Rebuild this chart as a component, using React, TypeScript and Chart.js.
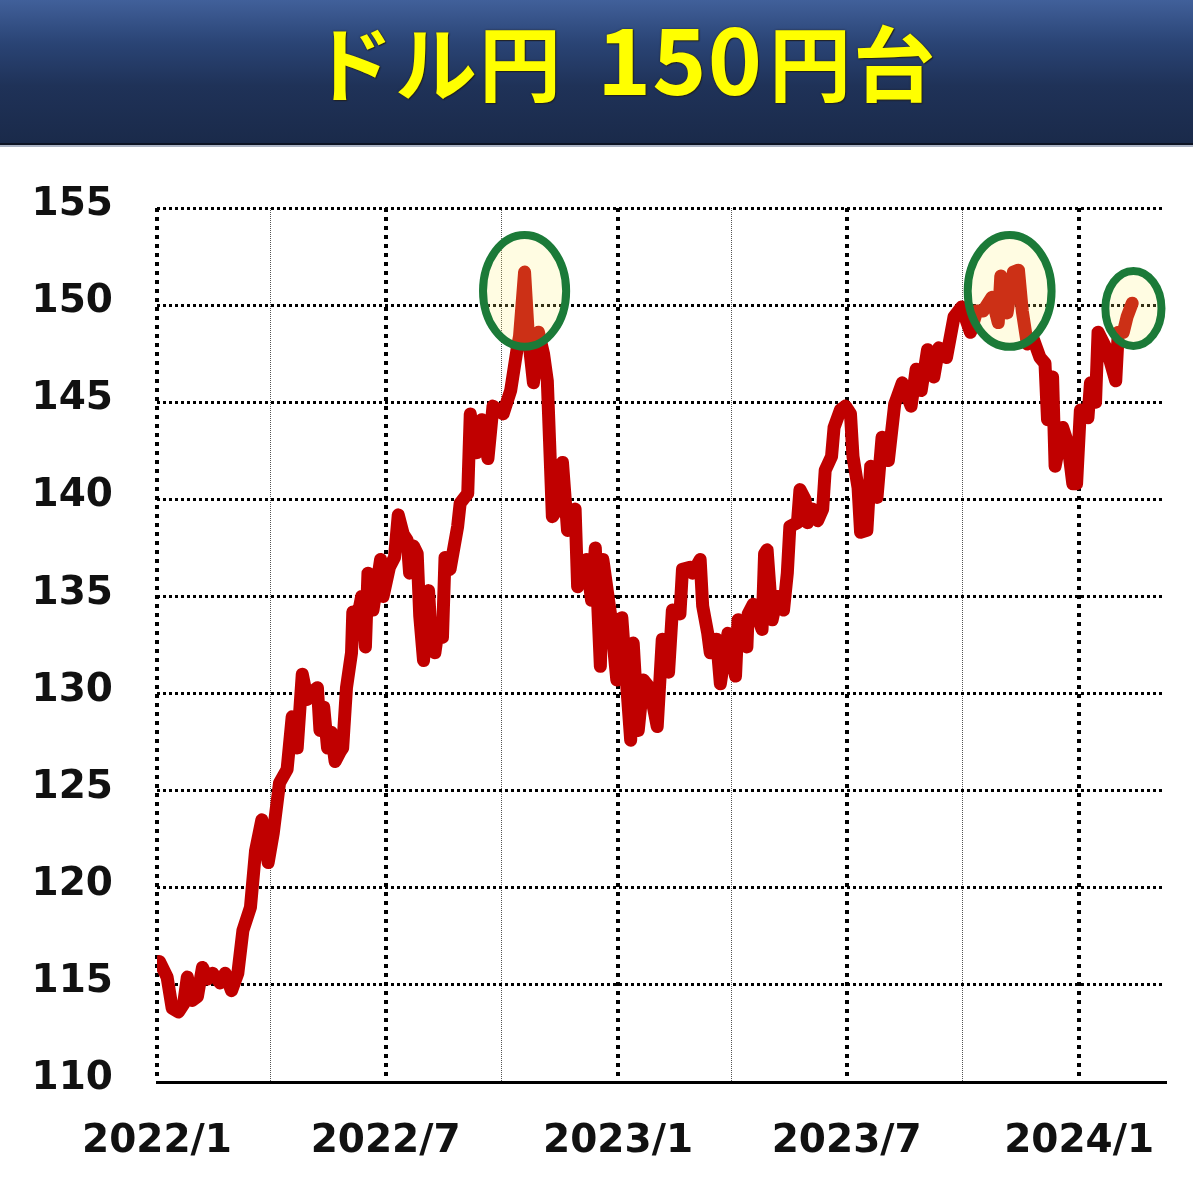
import { useEffect, useRef } from "react";
import { Chart, registerables } from "chart.js";

Chart.register(...registerables);

const TITLE_PARTS = ["ドル円", "150", "円台"];

const dates: string[] = [
  "2022-01-03", "2022-01-09", "2022-01-13", "2022-01-18", "2022-01-22", "2022-01-25", "2022-01-29",
  "2022-02-02", "2022-02-06", "2022-02-10", "2022-02-14", "2022-02-20", "2022-02-24", "2022-03-01",
  "2022-03-06", "2022-03-10", "2022-03-16", "2022-03-20", "2022-03-25", "2022-03-30", "2022-04-03",
  "2022-04-08", "2022-04-14", "2022-04-18", "2022-04-22", "2022-04-26", "2022-04-30", "2022-05-04",
  "2022-05-08", "2022-05-10", "2022-05-13", "2022-05-16", "2022-05-19", "2022-05-22", "2022-05-26",
  "2022-05-28", "2022-05-31", "2022-06-04", "2022-06-05", "2022-06-09", "2022-06-12", "2022-06-15",
  "2022-06-17", "2022-06-21", "2022-06-27", "2022-06-29", "2022-07-04", "2022-07-08", "2022-07-11",
  "2022-07-15", "2022-07-18", "2022-07-20", "2022-07-23", "2022-07-26", "2022-07-28", "2022-07-31",
  "2022-08-04", "2022-08-06", "2022-08-09", "2022-08-12", "2022-08-15", "2022-08-17", "2022-08-21",
  "2022-08-27", "2022-08-29", "2022-09-04", "2022-09-06", "2022-09-09", "2022-09-11", "2022-09-15",
  "2022-09-20", "2022-09-24", "2022-10-02", "2022-10-08", "2022-10-13", "2022-10-15", "2022-10-19",
  "2022-10-22", "2022-10-26", "2022-10-30", "2022-11-03", "2022-11-06", "2022-11-10", "2022-11-14",
  "2022-11-18", "2022-11-22", "2022-11-28", "2022-11-30", "2022-12-07", "2022-12-11", "2022-12-14",
  "2022-12-18", "2022-12-20", "2022-12-26", "2022-12-31", "2023-01-04", "2023-01-11", "2023-01-13",
  "2023-01-17", "2023-01-21", "2023-01-26", "2023-02-01", "2023-02-05", "2023-02-10", "2023-02-13",
  "2023-02-19", "2023-02-21", "2023-02-27", "2023-03-01", "2023-03-07", "2023-03-09", "2023-03-13",
  "2023-03-15", "2023-03-20", "2023-03-23", "2023-03-29", "2023-04-04", "2023-04-06", "2023-04-13",
  "2023-04-14", "2023-04-18", "2023-04-25", "2023-04-27", "2023-04-29", "2023-05-03", "2023-05-07",
  "2023-05-12", "2023-05-15", "2023-05-17", "2023-05-23", "2023-05-25", "2023-05-29", "2023-05-31",
  "2023-06-04", "2023-06-08", "2023-06-12", "2023-06-14", "2023-06-19", "2023-06-21", "2023-06-26",
  "2023-06-30", "2023-07-04", "2023-07-06", "2023-07-10", "2023-07-12", "2023-07-17", "2023-07-20",
  "2023-07-25", "2023-07-29", "2023-08-03", "2023-08-08", "2023-08-14", "2023-08-21", "2023-08-25",
  "2023-08-29", "2023-09-03", "2023-09-08", "2023-09-12", "2023-09-18", "2023-09-24", "2023-09-30",
  "2023-10-07", "2023-10-12", "2023-10-17", "2023-10-24", "2023-10-29", "2023-10-31", "2023-11-05",
  "2023-11-10", "2023-11-14", "2023-11-17", "2023-11-21", "2023-11-26", "2023-12-01", "2023-12-05",
  "2023-12-07", "2023-12-11", "2023-12-13", "2023-12-19", "2023-12-23", "2023-12-27", "2023-12-30",
  "2024-01-02", "2024-01-08", "2024-01-10", "2024-01-14", "2024-01-16", "2024-01-23", "2024-01-30",
  "2024-02-01", "2024-02-05", "2024-02-08", "2024-02-12",
];

const usdJpy: number[] = [
  116.2, 115.4, 113.8, 113.6, 114.0, 115.4, 114.2,
  114.4, 115.9, 115.3, 115.6, 115.1, 115.6, 114.7,
  115.6, 117.8, 119.0, 121.9, 123.5, 121.3, 122.8,
  125.4, 126.1, 128.8, 127.2, 131.0, 129.7, 130.1,
  130.3, 128.1, 129.3, 127.2, 128.0, 126.5, 127.0,
  127.2, 130.3, 132.1, 134.2, 134.0, 135.0, 132.4,
  136.2, 134.3, 136.9, 135.0, 136.5, 137.0, 139.2,
  138.2, 137.9, 136.2, 137.6, 137.2, 134.0, 131.7,
  135.3, 133.0, 132.1, 133.5, 132.9, 137.0, 136.4,
  138.6, 139.8, 140.3, 144.4, 143.0, 142.4, 144.1,
  142.1, 144.8, 144.4, 145.6, 147.7, 148.4, 151.7,
  148.4, 146.0, 148.6, 147.5, 146.1, 139.1, 139.5,
  141.9, 138.4, 139.5, 135.5, 136.9, 134.8, 137.5,
  131.4, 136.9, 134.1, 130.7, 133.9, 127.6, 132.6,
  128.1, 130.7, 130.3, 128.3, 132.8, 131.1, 134.3,
  134.1, 136.4, 136.5, 136.2, 136.9, 134.5, 133.1,
  132.1, 132.8, 130.5, 133.1, 130.9, 133.8, 132.4,
  134.1, 134.6, 133.3, 137.2, 137.4, 133.8, 135.0,
  134.3, 136.2, 138.6, 138.8, 140.5, 140.0, 138.8,
  139.5, 138.9, 139.5, 141.5, 142.2, 143.7, 144.6,
  144.8, 144.4, 142.2, 140.6, 138.3, 138.4, 141.7,
  140.1, 143.2, 142.0, 144.9, 146.0, 144.8, 146.7,
  145.6, 147.7, 146.3, 147.8, 147.3, 149.4, 149.9,
  148.6, 149.7, 149.7, 150.4, 149.1, 151.5, 149.6,
  151.7, 151.8, 149.7, 148.0, 148.2, 147.3, 147.0,
  144.1, 146.3, 141.7, 143.7, 142.9, 140.8, 140.8,
  144.6, 144.2, 146.0, 145.0, 148.6, 147.7, 146.1,
  148.6, 148.6, 149.4, 150.1,
];

const axisStartDate = "2022-01-01";
const axisEndDate = "2024-03-09";
const yMin = 110;
const yMax = 155;
const yStep = 5;

const majorTickDates = ["2022-01-01", "2022-07-01", "2023-01-01", "2023-07-01", "2024-01-01"];
const majorTickLabels = ["2022/1", "2022/7", "2023/1", "2023/7", "2024/1"];
const minorTickDates = ["2022-04-01", "2022-10-01", "2023-04-01", "2023-10-01"];

// highlighted peaks (ellipse centre and half extents, in data units)
const highlightDates = ["2022-10-19", "2023-11-07", "2024-02-13"];
const highlightRates = [150.73, 150.73, 149.83];
const highlightHalfDays = [32.9, 33.2, 22.2];
const highlightHalfRates = [2.88, 2.88, 1.93];

const DAY = 86400000;
const toDay = (s: string) => (Date.parse(s) - Date.parse(axisStartDate)) / DAY;

const ellipsePlugin = {
  id: "peakEllipses",
  afterDatasetsDraw(chart: any) {
    const { ctx, scales } = chart;
    const xs = scales.x;
    const ys = scales.y;
    ctx.save();
    highlightDates.forEach((d, i) => {
      const cd = toDay(d);
      const cx = xs.getPixelForValue(cd);
      const cy = ys.getPixelForValue(highlightRates[i]);
      const rx = xs.getPixelForValue(cd + highlightHalfDays[i]) - cx;
      const ry = cy - ys.getPixelForValue(highlightRates[i] + highlightHalfRates[i]);
      ctx.beginPath();
      ctx.ellipse(cx, cy, rx, ry, 0, 0, Math.PI * 2);
      ctx.fillStyle = "rgba(255, 240, 110, 0.2)";
      ctx.fill();
      ctx.lineWidth = 8;
      ctx.strokeStyle = "#1b7a38";
      ctx.stroke();
    });
    ctx.restore();
  },
};

export default function App() {
  const canvasRef = useRef<HTMLCanvasElement | null>(null);

  useEffect(() => {
    if (!canvasRef.current) return;
    const tickFont = { family: '"DejaVu Sans", Verdana, sans-serif', size: 39, weight: "bold" as const };
    const points = dates.map((d, i) => ({ x: toDay(d), y: usdJpy[i] }));
    const endDay = toDay(axisEndDate);
    const chart = new Chart(canvasRef.current, {
      type: "line",
      data: {
        datasets: [
          {
            data: points,
            xAxisID: "x",
            yAxisID: "y",
            borderColor: "#c00000",
            borderWidth: 13,
            pointRadius: 0,
            tension: 0,
            borderJoinStyle: "round",
            borderCapStyle: "round",
            fill: false,
          },
        ],
      },
      options: {
        animation: false,
        responsive: false,
        maintainAspectRatio: false,
        layout: { padding: { top: 208, right: 28, left: 0, bottom: 0 } },
        plugins: { legend: { display: false }, tooltip: { enabled: false } },
        scales: {
          x: {
            type: "linear",
            position: "bottom",
            min: 0,
            max: endDay,
            afterBuildTicks: (s: any) => {
              s.ticks = majorTickDates.map((d) => ({ value: toDay(d) }));
            },
            afterFit: (s: any) => {
              s.height = 118;
            },
            ticks: {
              autoSkip: false,
              maxRotation: 0,
              padding: 36,
              color: "#111",
              font: tickFont,
              callback: (_v: any, i: number) => majorTickLabels[i],
            },
            grid: { color: "#000", lineWidth: 4, drawTicks: false },
            border: { display: true, color: "#000", width: 3, dash: [4, 5] },
          },
          xq: {
            type: "linear",
            position: "bottom",
            min: 0,
            max: endDay,
            afterBuildTicks: (s: any) => {
              s.ticks = minorTickDates.map((d) => ({ value: toDay(d) }));
            },
            afterFit: (s: any) => {
              s.height = 0;
            },
            ticks: { display: false },
            grid: { color: "#555", lineWidth: 1, drawTicks: false },
            border: { display: false, dash: [1, 1] },
          },
          y: {
            type: "linear",
            min: yMin,
            max: yMax,
            afterFit: (s: any) => {
              s.width = 157;
            },
            ticks: {
              stepSize: yStep,
              padding: 44,
              labelOffset: -3,
              color: "#111",
              font: tickFont,
            },
            grid: { color: "#000", lineWidth: 3, drawTicks: false },
            border: { display: false, dash: [3, 3] },
          },
        },
      },
      plugins: [ellipsePlugin],
    } as any);
    return () => chart.destroy();
  }, []);

  const cjk: any = { fontSize: 82 };
  const digits: any = { fontSize: 92, letterSpacing: 1 };

  return (
    <div style={{ position: "absolute", left: 0, top: 0, width: 1193, height: 1200, background: "#fff", overflow: "hidden" }}>
      <canvas ref={canvasRef} width={1193} height={1200} style={{ display: "block", position: "absolute", left: 0, top: 0 }} />
      <div
        style={{
          position: "absolute",
          left: 0,
          top: 0,
          width: 1193,
          height: 143,
          background: "linear-gradient(#41609a 0%, #2a4475 30%, #1f3258 60%, #1a2a4a 100%)",
          borderBottom: "2px solid #0d1424",
          boxShadow: "0 2px 0 #aab3c4",
        }}
      >
        <div
          style={{
            position: "absolute",
            left: 624,
            top: 5,
            height: 100,
            transform: "translateX(-50%)",
            whiteSpace: "nowrap",
            display: "flex",
            alignItems: "baseline",
            fontFamily: '"Noto Sans CJK JP", sans-serif',
            fontWeight: 700,
            lineHeight: "100px",
            color: "#ffff00",
            textShadow: "0 0 2px #222, 1px 1px 1px #222",
          }}
        >
          <span style={{ ...cjk, letterSpacing: 2 }}>{TITLE_PARTS[0]}</span>
          <span style={{ ...digits, marginLeft: 34 }}>{TITLE_PARTS[1]}</span>
          <span style={{ ...cjk, marginLeft: 6, letterSpacing: 2 }}>{TITLE_PARTS[2]}</span>
        </div>
      </div>
    </div>
  );
}
